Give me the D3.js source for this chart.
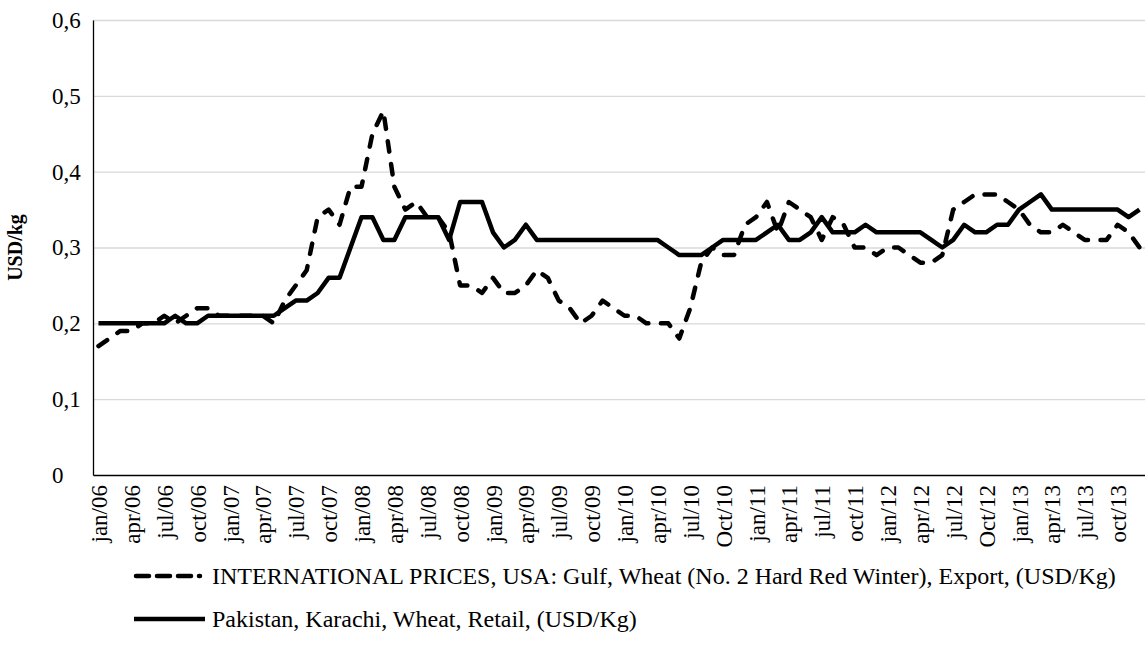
<!DOCTYPE html>
<html>
<head>
<meta charset="utf-8">
<script src="https://cdn.jsdelivr.net/npm/d3@7"></script>
<style>
  body { margin: 0; background: #fff; }
  text { font-family: "Liberation Serif", "Times New Roman", serif; fill: #000; }
</style>
</head>
<body>
<svg id="chart" width="1145" height="645"></svg>
<script>
// monthly categories jan/06 .. dec/13
const monthIndex = d3.range(96);

// x tick labels, one every 3 months
const tickLabels = [
  "jan/06", "apr/06", "jul/06", "oct/06", "jan/07", "apr/07", "jul/07", "oct/07",
  "jan/08", "apr/08", "jul/08", "oct/08", "jan/09", "apr/09", "jul/09", "oct/09",
  "jan/10", "apr/10", "jul/10", "Oct/10", "jan/11", "apr/11", "jul/11", "oct/11",
  "jan/12", "apr/12", "jul/12", "Oct/12", "jan/13", "apr/13", "jul/13", "oct/13"
];

// INTERNATIONAL PRICES, USA: Gulf, Wheat (No. 2 HRW), Export (USD/Kg)
const intlPrices = [
  0.17, 0.18, 0.19, 0.19, 0.20, 0.20, 0.21, 0.20, 0.21, 0.22, 0.22, 0.21,
  0.21, 0.21, 0.21, 0.21, 0.20, 0.23, 0.25, 0.27, 0.34, 0.35, 0.33, 0.38,
  0.38, 0.45, 0.48, 0.38, 0.35, 0.36, 0.34, 0.34, 0.32, 0.25, 0.25, 0.24,
  0.26, 0.24, 0.24, 0.25, 0.27, 0.26, 0.23, 0.22, 0.20, 0.21, 0.23, 0.22,
  0.21, 0.21, 0.20, 0.20, 0.20, 0.18, 0.22, 0.28, 0.30, 0.29, 0.29, 0.33,
  0.34, 0.36, 0.32, 0.36, 0.35, 0.34, 0.31, 0.34, 0.33, 0.30, 0.30, 0.29,
  0.30, 0.30, 0.29, 0.28, 0.28, 0.29, 0.35, 0.36, 0.37, 0.37, 0.37, 0.36,
  0.35, 0.33, 0.32, 0.32, 0.33, 0.32, 0.31, 0.31, 0.31, 0.33, 0.32, 0.30
];

// Pakistan, Karachi, Wheat, Retail (USD/Kg)
const karachiPrices = [
  0.20, 0.20, 0.20, 0.20, 0.20, 0.20, 0.20, 0.21, 0.20, 0.20, 0.21, 0.21,
  0.21, 0.21, 0.21, 0.21, 0.21, 0.22, 0.23, 0.23, 0.24, 0.26, 0.26, 0.30,
  0.34, 0.34, 0.31, 0.31, 0.34, 0.34, 0.34, 0.34, 0.31, 0.36, 0.36, 0.36,
  0.32, 0.30, 0.31, 0.33, 0.31, 0.31, 0.31, 0.31, 0.31, 0.31, 0.31, 0.31,
  0.31, 0.31, 0.31, 0.31, 0.30, 0.29, 0.29, 0.29, 0.30, 0.31, 0.31, 0.31,
  0.31, 0.32, 0.33, 0.31, 0.31, 0.32, 0.34, 0.32, 0.32, 0.32, 0.33, 0.32,
  0.32, 0.32, 0.32, 0.32, 0.31, 0.30, 0.31, 0.33, 0.32, 0.32, 0.33, 0.33,
  0.35, 0.36, 0.37, 0.35, 0.35, 0.35, 0.35, 0.35, 0.35, 0.35, 0.34, 0.35
];

const yTicks = [0, 0.1, 0.2, 0.3, 0.4, 0.5, 0.6];

const legendNames = [
  "INTERNATIONAL PRICES, USA: Gulf, Wheat (No. 2 Hard Red Winter), Export, (USD/Kg)",
  "Pakistan, Karachi, Wheat, Retail, (USD/Kg)"
];

const svg = d3.select("#chart");
const margin = { top: 20, right: 0, bottom: 170, left: 93 };
const width = +svg.attr("width"), height = +svg.attr("height");
const plotW = width - margin.left - margin.right;
const plotH = height - margin.top - margin.bottom;
const serif = "'Liberation Serif', 'Times New Roman', serif";

const x = d3.scalePoint()
  .domain(monthIndex)
  .range([0, plotW])
  .padding(0.5);

const y = d3.scaleLinear()
  .domain([0, 0.6])
  .range([plotH, 0]);

const g = svg.append("g")
  .attr("transform", `translate(${margin.left},${margin.top})`);

// gridlines
g.append("g")
  .attr("class", "grid")
  .call(d3.axisLeft(y).tickValues(yTicks.slice(1)).tickSize(-plotW).tickFormat(""))
  .call(s => s.select(".domain").remove())
  .call(s => s.selectAll("line").attr("stroke", "#d9d9d9").attr("stroke-width", 1.3));

// y axis
const fmt = v => v === 0 ? "0" : d3.format(".1f")(v).replace(".", ",");
g.append("g")
  .call(d3.axisLeft(y).tickValues(yTicks).tickSize(0).tickFormat(fmt))
  .call(s => s.select(".domain").attr("stroke", "#000").attr("stroke-width", 1.3))
  .call(s => s.selectAll("text")
    .attr("text-anchor", "start")
    .attr("x", -41)
    .style("font-size", "23px")
    .style("font-family", serif));

// x axis
g.append("g")
  .attr("transform", `translate(0,${plotH})`)
  .call(d3.axisBottom(x)
    .tickValues(monthIndex.filter(i => i % 3 === 0))
    .tickSize(0)
    .tickFormat(i => tickLabels[i / 3]))
  .call(s => s.select(".domain").attr("stroke", "#000").attr("stroke-width", 1.3))
  .call(s => s.selectAll("text")
    .attr("transform", "rotate(-90)")
    .attr("text-anchor", "end")
    .attr("x", -10)
    .attr("y", 0)
    .attr("dy", "0.35em")
    .style("font-size", "23px")
    .style("font-family", serif));

// y title
svg.append("text")
  .attr("transform", `translate(22,${margin.top + plotH / 2}) rotate(-90)`)
  .attr("text-anchor", "middle")
  .style("font-size", "20px")
  .style("font-weight", "bold")
  .style("font-family", serif)
  .text("USD/kg");

const line = d3.line()
  .x((d, i) => x(i))
  .y(d => y(d));

const dashStyle = "10.5,12.5";

g.append("path")
  .datum(karachiPrices)
  .attr("d", line)
  .attr("fill", "none")
  .attr("stroke", "#000")
  .attr("stroke-width", 4.5)
  .attr("stroke-linejoin", "round");

g.append("path")
  .datum(intlPrices)
  .attr("d", line)
  .attr("fill", "none")
  .attr("stroke", "#000")
  .attr("stroke-width", 4.5)
  .attr("stroke-linejoin", "round")
  .attr("stroke-linecap", "round")
  .attr("stroke-dasharray", dashStyle);

// legend
const legend = svg.append("g");
const legendRows = [
  { name: legendNames[0], dash: "13,8", y: 576 },
  { name: legendNames[1], dash: null, y: 619 }
];
legendRows.forEach(r => {
  legend.append("line")
    .attr("x1", r.dash ? 136 : 134).attr("x2", r.dash ? 200 : 205)
    .attr("y1", r.y).attr("y2", r.y)
    .attr("stroke", "#000")
    .attr("stroke-width", 4.5)
    .attr("stroke-linecap", r.dash ? "round" : "butt")
    .attr("stroke-dasharray", r.dash);
  legend.append("text")
    .attr("x", 212)
    .attr("y", r.y)
    .attr("dy", "0.35em")
    .style("font-size", "24px")
    .style("font-family", serif)
    .text(r.name);
});
</script>
</body>
</html>
